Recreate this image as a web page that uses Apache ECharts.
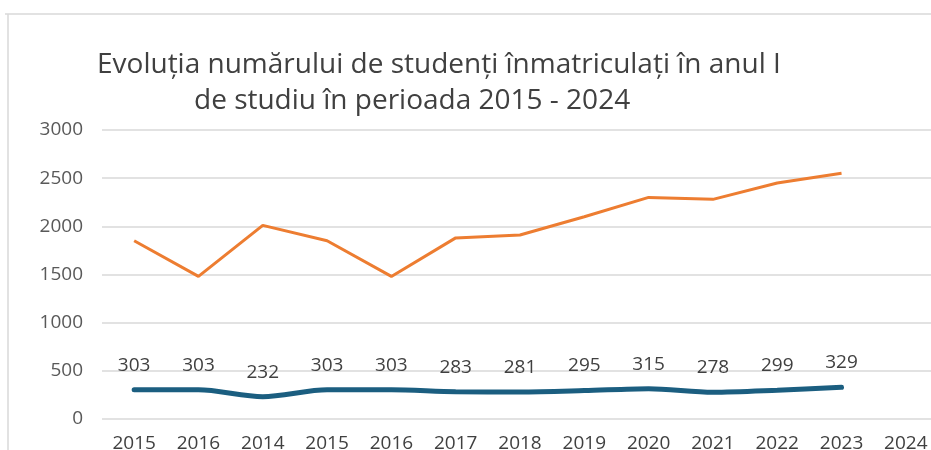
<!DOCTYPE html>
<html><head><meta charset="utf-8">
<script src="https://cdn.jsdelivr.net/npm/echarts@6/dist/echarts.min.js"></script>
<style>html,body{margin:0;padding:0;background:#fff}#c{width:931px;height:450px}</style>
</head><body><div id="c"></div>
<script>
const categories = ['2015','2016','2014','2015','2016','2017','2018','2019','2020','2021','2022','2023','2024'];
const orangeValues = [1850,1480,2010,1850,1480,1880,1910,2100,2300,2280,2450,2550];
const blueValues = [303,303,232,303,303,283,281,295,315,278,299,329];
const yTicks = [0,500,1000,1500,2000,2500,3000];
const titleLine1 = 'Evoluția numărului de studenți înmatriculați în anul I';
const titleLine2 = 'de studiu în perioada 2015 - 2024';

const chart = echarts.init(document.getElementById('c'));
const font = '"Open Sans", Lato, sans-serif';
chart.setOption({
  animation: false,
  backgroundColor: '#fff',
  title: [
    {text: titleLine1, left: 92, top: 46, textStyle: {fontFamily: font, fontSize: 28, fontWeight: 'normal', color: '#404040'}},
    {text: titleLine2, left: 189, top: 82, textStyle: {fontFamily: font, fontSize: 28, fontWeight: 'normal', color: '#404040'}}
  ],
  graphic: [
    {type: 'line', shape: {x1: 8, y1: 14, x2: 8, y2: 450}, style: {stroke: '#d9d9d9', lineWidth: 1.5}},
    {type: 'line', shape: {x1: 5, y1: 14, x2: 931, y2: 14}, style: {stroke: '#d9d9d9', lineWidth: 1.5}}
  ],
  grid: {left: 102, right: -7, top: 130, bottom: 31, outerBoundsMode: 'none', containLabel: false},
  xAxis: {
    type: 'category', data: categories, boundaryGap: true,
    axisLine: {show: false}, axisTick: {show: false},
    axisLabel: {margin: 15, fontSize: 19, color: '#404040', fontFamily: font, interval: 0}
  },
  yAxis: {
    type: 'value', min: yTicks[0], max: yTicks[yTicks.length-1], interval: 500,
    axisLine: {show: false}, axisTick: {show: false},
    axisLabel: {margin: 19, fontSize: 19, color: '#595959', fontFamily: font, formatter: v => String(v)},
    splitLine: {lineStyle: {color: '#d9d9d9', width: 1.5}}
  },
  series: [
    {type: 'line', data: orangeValues, symbol: 'none', lineStyle: {color: '#ed7d31', width: 3}, z: 2},
    {type: 'line', data: blueValues, symbol: 'circle', symbolSize: 0, showSymbol: true, smooth: 0.3,
     itemStyle: {color: '#1b5e80'},
     lineStyle: {color: '#1b5e80', width: 5, cap: 'round'}, z: 3,
     label: {show: true, position: 'top', distance: 15, fontSize: 19, color: '#404040', fontFamily: font}}
  ]
});
</script></body></html>
